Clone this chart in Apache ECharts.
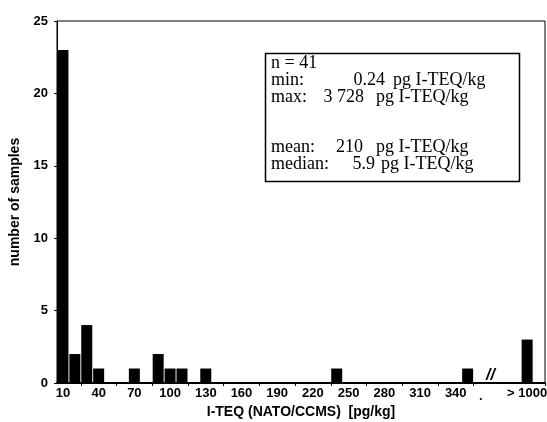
<!DOCTYPE html>
<html>
<head>
<meta charset="utf-8">
<script src="https://cdn.jsdelivr.net/npm/echarts@6/dist/echarts.min.js"></script>
<style>
  html, body { margin: 0; padding: 0; background: #fff; }
  #chart { width: 547px; height: 422px; }
</style>
</head>
<body>
<div id="chart"></div>
<script>
// 10 pg/kg bins, last visible bin is the "> 1000" class
const bins = [
  '10', '20', '30', '40', '50', '60', '70', '80', '90', '100',
  '110', '120', '130', '140', '150', '160', '170', '180', '190', '200',
  '210', '220', '230', '240', '250', '260', '270', '280', '290', '300',
  '310', '320', '330', '340', '350', '360', '370', '380', '390', '> 1000', ''
];
const counts = [
  23, 2, 4, 1, 0, 0, 1, 0, 2, 1,
  1, 0, 1, 0, 0, 0, 0, 0, 0, 0,
  0, 0, 0, 1, 0, 0, 0, 0, 0, 0,
  0, 0, 0, 0, 1, 0, 0, 0, 0, 3, 0
];
const shownLabels = ['10', '40', '70', '100', '130', '160', '190', '220', '250', '280', '310', '340', '> 1000'];
const yTicks = [0, 5, 10, 15, 20, 25];

// summary box
const statNames = ['n = 41', 'min:', 'max:', 'mean:', 'median:'];
const statValues = ['', '0.24', '3 728', '210', '5.9'];
const statUnits = ['', 'pg I-TEQ/kg', 'pg I-TEQ/kg', 'pg I-TEQ/kg', 'pg I-TEQ/kg'];

const chart = echarts.init(document.getElementById('chart'));

const serif = '"Liberation Serif", "DejaVu Serif", serif';
const sans = '"Liberation Sans", Arial, sans-serif';

const rowY = [64, 81, 98, 148, 165];
const valueX = [0, 385, 364, 363, 375];
const unitX = [0, 393, 376, 376, 381];

const texts = [];
statNames.forEach((s, i) => {
  texts.push({
    type: 'text', left: 271, top: rowY[i] - 10,
    style: { text: s, font: '18px ' + serif, fill: '#000' }
  });
  if (statValues[i]) {
    texts.push({
      type: 'text', right: 547 - valueX[i], top: rowY[i] - 10,
      style: { text: statValues[i], font: '18px ' + serif, fill: '#000' }
    });
    texts.push({
      type: 'text', left: unitX[i], top: rowY[i] - 10,
      style: { text: statUnits[i], font: '18px ' + serif, fill: '#000' }
    });
  }
});

const option = {
  backgroundColor: '#fff',
  animation: false,
  grid: {
    left: 57,
    right: 2,
    top: 21,
    bottom: 39,
    outerBoundsMode: 'none',
    containLabel: false,
    show: true,
    borderColor: '#000',
    borderWidth: 1
  },
  xAxis: {
    type: 'category',
    data: bins,
    name: 'I-TEQ (NATO/CCMS)  [pg/kg]',
    nameLocation: 'middle',
    nameGap: 22,
    nameTextStyle: { fontFamily: sans, fontSize: 14, fontWeight: 'bold', color: '#000' },
    axisLine: { lineStyle: { color: '#000', width: 2 } },
    axisTick: {
      show: true,
      length: 3,
      inside: false,
      interval: (i) => i % 3 === 2 && i < 36,
      lineStyle: { color: '#000' }
    },
    axisLabel: {
      interval: 0,
      margin: 4,
      fontFamily: sans,
      fontSize: 13,
      fontWeight: 'bold',
      color: '#000',
      formatter: (v) => shownLabels.includes(v) ? v : ''
    },
    splitLine: { show: false }
  },
  yAxis: {
    type: 'value',
    min: yTicks[0],
    max: yTicks[yTicks.length - 1],
    interval: 5,
    name: 'number of samples',
    nameLocation: 'middle',
    nameGap: 33,
    nameTextStyle: { fontFamily: sans, fontSize: 14, fontWeight: 'bold', color: '#000' },
    axisLine: { show: true, lineStyle: { color: '#000', width: 1 } },
    axisTick: { show: true, length: 3, lineStyle: { color: '#000' } },
    axisLabel: {
      margin: 9,
      fontFamily: sans,
      fontSize: 13,
      fontWeight: 'bold',
      color: '#000'
    },
    splitLine: { show: false }
  },
  series: [{
    type: 'bar',
    data: counts,
    barWidth: 11,
    itemStyle: { color: '#000' }
  }],
  graphic: [
    {
      type: 'rect',
      shape: { x: 265.5, y: 53.5, width: 254, height: 128 },
      style: { fill: '#fff', stroke: '#000', lineWidth: 1.5 }
    },
    ...texts,
    {
      type: 'text', left: 486, top: 368,
      style: { text: '//', font: 'italic bold 16px ' + sans, fill: '#000' }
    },
    {
      type: 'text', left: 479, top: 390,
      style: { text: '.', font: 'bold 13px ' + sans, fill: '#000' }
    }
  ]
};

chart.setOption(option);
</script>
</body>
</html>
